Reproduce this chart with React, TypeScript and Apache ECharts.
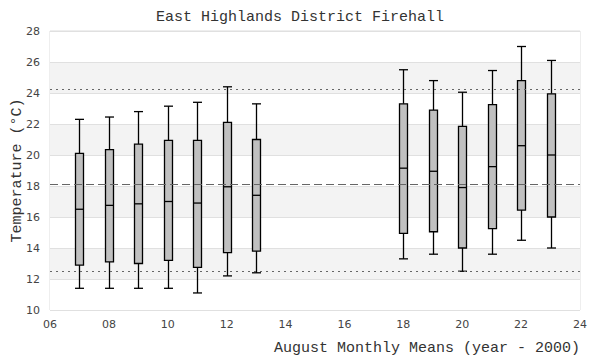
import React, { useEffect, useRef } from "react";
import * as echarts from "echarts";

const years = [7, 8, 9, 10, 11, 12, 13, 18, 19, 20, 21, 22, 23];
const lows = [11.4, 11.4, 11.4, 11.4, 11.1, 12.2, 12.4, 13.3, 13.6, 12.5, 13.6, 14.5, 14.0];
const q1s = [12.9, 13.1, 13.0, 13.2, 12.75, 13.7, 13.8, 14.95, 15.05, 14.0, 15.25, 16.45, 16.0];
const medians = [16.5, 16.75, 16.85, 17.0, 16.9, 17.95, 17.4, 19.15, 18.95, 17.9, 19.25, 20.6, 20.0];
const q3s = [20.1, 20.35, 20.7, 20.95, 20.95, 22.1, 21.0, 23.3, 22.9, 21.85, 23.25, 24.8, 23.95];
const highs = [22.3, 22.45, 22.8, 23.15, 23.4, 24.4, 23.3, 25.5, 24.8, 24.05, 25.45, 27.0, 26.1];
const refUpper = 24.22;
const refMean = 18.1;
const refLower = 12.5;

const mono = "'Liberation Mono', 'DejaVu Sans Mono', monospace";
const sans = "'DejaVu Sans', sans-serif";

export default function App() {
  const ref = useRef<HTMLDivElement>(null);
  useEffect(() => {
    if (!ref.current) return;
    const chart = echarts.init(ref.current, undefined, { renderer: "svg" });
    const data = years.map((y, i) => [y, lows[i], q1s[i], medians[i], q3s[i], highs[i]]);
    const half = 4.5;
    chart.setOption({
      animation: false,
      title: {
        text: "East Highlands District Firehall",
        left: "center",
        top: 5,
        textStyle: { fontFamily: mono, fontSize: 15, fontWeight: "normal", color: "#333" },
      },
      grid: {
        left: 50,
        right: 20,
        top: 31,
        bottom: 50,
        containLabel: false,
        outerBoundsMode: "none",
        show: true,
        borderColor: "#dddddd",
        borderWidth: 1,
        backgroundColor: "transparent",
      },
      xAxis: {
        type: "value",
        min: 6,
        max: 24,
        interval: 2,
        name: "August Monthly Means (year - 2000)",
        nameLocation: "end",
        nameGap: 0,
        nameMoveOverlap: false,
        nameTextStyle: { fontFamily: mono, fontSize: 15, color: "#333", align: "right", verticalAlign: "top", padding: [31, 0, 0, 0] },
        axisLine: { show: false },
        axisTick: { show: false },
        splitLine: { show: false },
        axisLabel: {
          fontFamily: sans,
          fontSize: 11,
          color: "#444",
          margin: 9,
          formatter: (v: number) => (v < 10 ? "0" + v : String(v)),
        },
      },
      yAxis: {
        type: "value",
        min: 10,
        max: 28,
        interval: 2,
        name: "Temperature (°C)",
        nameLocation: "middle",
        nameGap: 25,
        nameMoveOverlap: false,
        nameTextStyle: { fontFamily: mono, fontSize: 15, color: "#333" },
        axisLine: { show: false },
        axisTick: { show: false },
        axisLabel: { fontFamily: sans, fontSize: 11, color: "#444", margin: 10 },
        splitLine: { show: true, lineStyle: { color: "#e0e0e0", width: 1 } },
        splitArea: { show: true, areaStyle: { color: ["#ffffff", "#f3f3f3"] } },
      },
      series: [
        {
          type: "custom",
          data,
          clip: true,
          renderItem: (params: any, api: any) => {
            const x = api.value(0);
            const lo = api.coord([x, api.value(1)]);
            const b1 = api.coord([x, api.value(2)]);
            const md = api.coord([x, api.value(3)]);
            const b3 = api.coord([x, api.value(4)]);
            const hi = api.coord([x, api.value(5)]);
            const cx = Math.round(lo[0]) + 0.5;
            const ls = { stroke: "#000", lineWidth: 1.3 };
            return {
              type: "group",
              children: [
                { type: "line", shape: { x1: cx, y1: hi[1], x2: cx, y2: b3[1] }, style: ls },
                { type: "line", shape: { x1: cx, y1: b1[1], x2: cx, y2: lo[1] }, style: ls },
                { type: "line", shape: { x1: cx - half, y1: hi[1], x2: cx + half, y2: hi[1] }, style: ls },
                { type: "line", shape: { x1: cx - half, y1: lo[1], x2: cx + half, y2: lo[1] }, style: ls },
                {
                  type: "rect",
                  shape: { x: cx - 4, y: b3[1], width: 8, height: b1[1] - b3[1] },
                  style: { fill: "#c0c0c0", stroke: "#000", lineWidth: 1.3 },
                },
                { type: "line", shape: { x1: cx - 4, y1: md[1], x2: cx + 4, y2: md[1] }, style: ls },
              ],
            };
          },
          markLine: {
            silent: true,
            symbol: "none",
            label: { show: false },
            data: [
              { yAxis: refUpper, lineStyle: { type: [2, 4], color: "#666", width: 1 } },
              { yAxis: refMean, lineStyle: { type: [8, 4], color: "#666", width: 1 } },
              { yAxis: refLower, lineStyle: { type: [2, 4], color: "#666", width: 1 } },
            ],
          },
        },
      ],
    });
    return () => chart.dispose();
  }, []);
  return <div ref={ref} style={{ width: 600, height: 360, position: "absolute", left: 0, top: 0 }} />;
}
